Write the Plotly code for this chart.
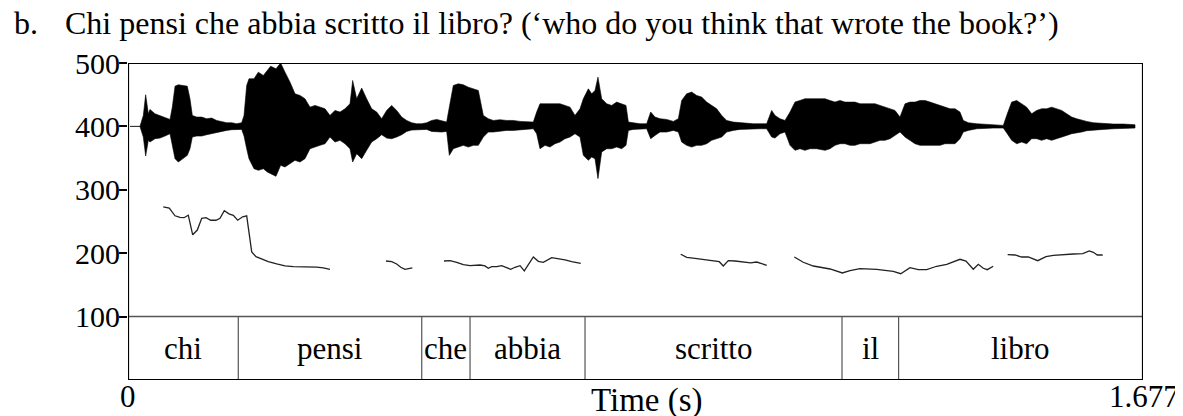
import plotly.graph_objects as go

# ---------------- data ----------------
T_END = 1.677

# waveform envelope (time s, upper / lower excursion on the 100-500 scale, centred at 400)
wave_t = [0.0033, 0.0198, 0.0253, 0.0292, 0.0336, 0.0363, 0.0446, 0.0529, 0.0611, 0.0694,
          0.0732, 0.0777, 0.0832, 0.0914, 0.0980, 0.1024, 0.1063, 0.1135, 0.1217, 0.1300,
          0.1382, 0.1465, 0.1548, 0.1630, 0.1713, 0.1795, 0.1878, 0.1917, 0.1961, 0.1999,
          0.2082, 0.2153, 0.2236, 0.2302, 0.2357, 0.2445, 0.2522, 0.2594, 0.2677, 0.2759,
          0.2842, 0.2924, 0.3007, 0.3090, 0.3172, 0.3255, 0.3337, 0.3420, 0.3503, 0.3585,
          0.3668, 0.3712, 0.3778, 0.3861, 0.3943, 0.4026, 0.4109, 0.4191, 0.4274, 0.4356,
          0.4439, 0.4522, 0.4604, 0.4687, 0.4769, 0.4852, 0.4935, 0.5017, 0.5100, 0.5182,
          0.5265, 0.5309, 0.5375, 0.5458, 0.5540, 0.5623, 0.5706, 0.5788,
          0.5871, 0.5953, 0.6036, 0.6146, 0.6256, 0.6366, 0.6477, 0.6587, 0.6697, 0.6752,
          0.6807, 0.6890, 0.6972, 0.7055, 0.7137, 0.7220, 0.7303, 0.7385, 0.7468, 0.7523,
          0.7606, 0.7661, 0.7716, 0.7765, 0.7826, 0.7909, 0.7991, 0.8074, 0.8156, 0.8228,
          0.8267, 0.8349, 0.8459, 0.8570, 0.8636, 0.8707, 0.8790, 0.8900, 0.9010, 0.9093,
          0.9148, 0.9230, 0.9313, 0.9396, 0.9478, 0.9561, 0.9643, 0.9726, 0.9809, 0.9891,
          1.0001, 1.0111, 1.0222, 1.0332, 1.0442, 1.0552, 1.0635, 1.0690, 1.0772, 1.0855,
          1.0938, 1.1020, 1.1103, 1.1185, 1.1268, 1.1378,
          1.1516, 1.1598, 1.1681, 1.1764, 1.1846, 1.1929, 1.2011, 1.2094, 1.2177, 1.2259,
          1.2342, 1.2425, 1.2507, 1.2590, 1.2672, 1.2755, 1.2838, 1.2920, 1.3003, 1.3085,
          1.3168, 1.3251, 1.3333, 1.3416, 1.3498, 1.3581, 1.3664, 1.3746, 1.3801, 1.3884,
          1.4022, 1.4132, 1.4297, 1.4462, 1.4528, 1.4600, 1.4683, 1.4765, 1.4848, 1.4931,
          1.5013, 1.5096, 1.5178, 1.5261, 1.5344, 1.5426, 1.5509, 1.5592, 1.5674, 1.5757,
          1.5839, 1.5949, 1.6115, 1.6280, 1.6445, 1.6610, 1.6638]
wave_top = [400, 400, 417.3, 449.9, 419.9, 426.8, 419.9, 417.3, 414.7, 411.0,
            430.4, 463.5, 465.6, 464.6, 463.5, 443.6, 417.3, 414.7, 414.7, 412.1,
            413.1, 409.4, 407.9, 405.8, 405.8, 404.2, 405.8, 417.3, 464.6, 475.1,
            475.1, 485.6, 480.3, 488.2, 495.0, 490.8, 500.0, 485.6, 469.8, 451.4,
            448.8, 443.6, 430.4, 433.1, 430.4, 427.8, 417.3, 425.2, 422.6, 427.8,
            435.7, 472.4, 443.6, 460.4, 443.6, 427.8, 422.6, 412.1, 425.2, 433.1,
            425.2, 414.7, 409.4, 405.8, 404.2, 404.2, 405.8, 409.4, 411.0, 409.4,
            406.8, 430.4, 464.6, 467.2, 465.6, 461.9, 459.3, 456.7,
            417.3, 412.1, 409.4, 410.5, 409.4, 409.4, 407.9, 407.9, 406.8, 422.6,
            435.7, 435.7, 435.7, 435.7, 435.7, 433.1, 430.4, 417.3, 427.8, 443.6,
            459.3, 451.4, 456.7, 477.7, 443.6, 435.7, 433.1, 438.3, 435.7, 433.1,
            406.8, 405.8, 404.2, 404.2, 422.6, 414.7, 412.1, 411.0, 407.9, 412.1,
            440.9, 451.4, 454.1, 448.8, 446.2, 438.3, 433.1, 427.8, 417.3, 409.4,
            406.8, 405.8, 405.2, 404.2, 404.2, 404.2, 425.2, 417.3, 412.1, 409.4,
            422.6, 438.3, 440.9, 443.6, 443.6, 443.6,
            443.6, 440.9, 438.3, 440.9, 438.3, 438.3, 438.3, 435.7, 435.7, 435.7,
            435.7, 433.1, 430.4, 427.8, 425.2, 414.7, 435.7, 438.3, 438.3, 440.9,
            440.9, 438.3, 435.7, 433.1, 430.4, 427.8, 427.8, 422.6, 409.4, 405.8,
            404.2, 403.7, 402.6, 401.6, 419.9, 438.3, 440.9, 435.7, 430.4, 419.9,
            425.2, 427.8, 427.8, 430.4, 427.8, 425.2, 419.9, 414.7, 412.1, 409.4,
            407.9, 405.8, 404.2, 403.7, 403.7, 402.6, 402.6]
wave_bot = [400, 400, 383.2, 353.3, 378.0, 375.3, 380.6, 381.6, 384.8, 388.5,
            370.1, 349.1, 343.8, 349.1, 354.3, 364.8, 383.2, 384.8, 384.8, 386.9,
            388.5, 391.1, 392.1, 393.7, 394.8, 395.3, 395.3, 384.8, 364.8, 349.1,
            333.3, 330.7, 333.3, 328.1, 325.5, 321.3, 338.6, 336.0, 341.2, 346.5,
            343.8, 349.1, 364.8, 367.5, 370.1, 372.7, 383.2, 375.3, 378.0, 372.7,
            364.8, 343.8, 357.0, 349.1, 362.2, 375.3, 380.6, 386.9, 381.6, 380.6,
            383.2, 386.9, 392.1, 394.2, 395.3, 395.3, 395.3, 392.1, 391.1, 391.1,
            392.1, 354.3, 364.8, 367.5, 370.1, 367.5, 370.1, 370.1,
            383.2, 391.1, 391.1, 392.1, 393.7, 393.7, 395.3, 395.3, 396.3, 388.5,
            364.8, 370.1, 367.5, 372.7, 375.3, 380.6, 383.2, 388.5, 383.2, 354.3,
            346.5, 351.7, 349.1, 317.6, 359.6, 364.8, 364.8, 367.5, 364.8, 370.1,
            393.7, 395.3, 396.3, 396.3, 380.6, 385.8, 391.1, 391.1, 393.7, 391.1,
            375.3, 370.1, 367.5, 370.1, 370.1, 372.7, 378.0, 380.6, 383.2, 391.1,
            393.7, 395.3, 396.3, 396.3, 396.3, 396.3, 383.2, 381.6, 388.5, 391.1,
            370.1, 362.2, 364.8, 362.2, 364.8, 364.8,
            362.2, 364.8, 370.1, 372.7, 372.7, 370.1, 370.1, 372.7, 372.7, 372.7,
            375.3, 378.0, 378.0, 380.6, 385.8, 391.1, 383.2, 378.0, 372.7, 370.1,
            370.1, 370.1, 370.1, 370.1, 372.7, 372.7, 372.7, 380.6, 391.1, 393.7,
            396.3, 396.3, 397.4, 397.4, 388.5, 378.0, 372.7, 375.3, 372.7, 380.6,
            380.6, 378.0, 380.6, 378.0, 380.6, 383.2, 385.8, 388.5, 390.0, 391.1,
            393.2, 394.2, 395.3, 396.3, 396.3, 397.4, 397.4]

# pitch track segments (time s, F0 Hz)
pitch_t = [
    [0.0583, 0.0682, 0.0777, 0.0859, 0.0925, 0.0996, 0.1069, 0.1145, 0.1218, 0.1289,
     0.1366, 0.1454, 0.1520, 0.1591, 0.1669, 0.1740, 0.1812, 0.1895, 0.1961, 0.2044,
     0.2115, 0.2209, 0.2318, 0.2457, 0.2594, 0.2731, 0.2896, 0.3118, 0.3227, 0.3337],
    [0.4263, 0.4357, 0.4439, 0.4506, 0.4577, 0.4631, 0.4698],
    [0.5221, 0.5320, 0.5431, 0.5540, 0.5651, 0.5816, 0.5898, 0.5953, 0.6009, 0.6092,
     0.6174, 0.6245, 0.6323, 0.6394, 0.6477, 0.6548, 0.6625, 0.6697, 0.6779, 0.6862,
     0.7000, 0.7109, 0.7220, 0.7331, 0.7480],
    [0.9132, 0.9231, 0.9368, 0.9534, 0.9670, 0.9769, 0.9836, 0.9918, 1.0029, 1.0166,
     1.0288, 1.0387, 1.0470, 1.0553],
    [1.1009, 1.1157, 1.1323, 1.1599, 1.1802, 1.1929, 1.2094, 1.2370, 1.2644, 1.2767,
     1.2920, 1.3057, 1.3196, 1.3361, 1.3527, 1.3636, 1.3746, 1.3845, 1.3966, 1.4049,
     1.4131, 1.4197, 1.4296],
    [1.4534, 1.4655, 1.4766, 1.4875, 1.5030, 1.5167, 1.5288, 1.5453, 1.5618, 1.5774,
     1.5883, 1.5949, 1.6015, 1.6104],
]
pitch_f0 = [
    [273, 271, 259, 256.5, 256, 260, 229, 236.5, 255, 256,
     252, 252, 255, 267, 262, 259.7, 252, 257.5, 259, 202,
     194.5, 191, 186.6, 183, 180, 178.7, 178.7, 178, 176.7, 174.6],
    [187.7, 186.6, 183, 177.8, 174.6, 175.6, 177],
    [187.7, 188.2, 185.7, 182, 180.3, 181.4, 180, 176.2, 178.7, 178.7,
     180.3, 177.8, 174.6, 177.8, 180.3, 172, 184, 194, 187.2, 185.7,
     193, 191.3, 189.3, 186.6, 184],
    [198.3, 193.5, 192, 189.3, 187.7, 186.6, 179.8, 188.2, 187.7, 186.6,
     184.6, 186.1, 184, 180.9],
    [194, 185.7, 179.8, 175.1, 168.8, 172.4, 175.6, 174.6, 171.5, 167.7,
     177.2, 174, 174, 179.4, 182.5, 186.6, 190.4, 187.7, 174.6, 182.5,
     176.2, 174, 179.4],
    [197.6, 197.2, 194, 194, 188.2, 194.5, 196.7, 198.3, 198.7, 199.2,
     203.5, 201.4, 197.2, 197.2],
]

# word tier
word_bounds = [0.0, 0.1822, 0.4853, 0.5651, 0.7551, 1.1797, 1.2732, 1.677]
words = ["chi", "pensi", "che", "abbia", "scritto", "il", "libro"]

y_ticks = [100, 200, 300, 400, 500]
title_label = "b."
title_text = "Chi pensi che abbia scritto il libro? (\u2018who do you think that wrote the book?\u2019)"
x_label = "Time (s)"

# ---------------- figure ----------------
FONT = "Liberation Serif, Times New Roman, serif"
fig = go.Figure()

# waveform as filled envelope
fig.add_trace(go.Scatter(
    x=wave_t + wave_t[::-1],
    y=wave_top + wave_bot[::-1],
    mode="lines", fill="toself", fillcolor="black",
    line=dict(color="black", width=0.6),
    hoverinfo="skip", showlegend=False))

# pitch
px, py = [], []
for ts, fs in zip(pitch_t, pitch_f0):
    px += ts + [None]
    py += fs + [None]
fig.add_trace(go.Scatter(x=px, y=py, mode="lines",
                         line=dict(color="#222222", width=1.3),
                         hoverinfo="skip", showlegend=False))

shapes = []
shapes.append(dict(type="line", xref="x", yref="y", x0=0, x1=T_END, y0=100, y1=100,
                   line=dict(color="#555555", width=1.5)))
for b in word_bounds[1:-1]:
    shapes.append(dict(type="line", xref="x", yref="y", x0=b, x1=b, y0=0, y1=100,
                       line=dict(color="#555555", width=1.2)))
shapes.append(dict(type="rect", xref="x", yref="y", x0=0, x1=T_END, y0=0, y1=500,
                   line=dict(color="black", width=2.2)))

annotations = []
for w, a, b in zip(words, word_bounds[:-1], word_bounds[1:]):
    annotations.append(dict(x=(a + b) / 2, y=50, xref="x", yref="y", text=w,
                            showarrow=False, font=dict(family=FONT, size=31, color="black"),
                            xanchor="center", yanchor="middle"))
annotations += [
    dict(x=0, y=-0.053, xref="paper", yref="paper", text="0", showarrow=False,
         font=dict(family=FONT, size=31, color="black"), xanchor="center", yanchor="middle"),
    dict(x=1.0374, y=-0.053, xref="paper", yref="paper", text=f"{T_END:.3f}", showarrow=False,
         font=dict(family=FONT, size=31, color="black"), xanchor="right", yanchor="middle"),
    dict(x=0.511, y=-0.066, xref="paper", yref="paper", text=x_label, showarrow=False,
         font=dict(family=FONT, size=33, color="black"), xanchor="center", yanchor="middle"),
    dict(x=-0.1143, y=1.127, xref="paper", yref="paper", text=title_label, showarrow=False,
         font=dict(family=FONT, size=32, color="black"), xanchor="left", yanchor="middle"),
    dict(x=-0.0645, y=1.127, xref="paper", yref="paper", text=title_text, showarrow=False,
         font=dict(family=FONT, size=32, color="black"), xanchor="left", yanchor="middle"),
]

# the page body adds an 8 px margin, so the figure is 8 px smaller than the window
fig.update_layout(
    width=1175, height=408,
    margin=dict(l=120, r=40, t=55, b=36),
    paper_bgcolor="white", plot_bgcolor="white",
    shapes=shapes, annotations=annotations,
    xaxis=dict(range=[0, T_END], visible=False, showgrid=False, zeroline=False),
    yaxis=dict(range=[0, 500], tickvals=y_ticks, ticks="outside", ticklen=8, tickwidth=1.5,
               tickcolor="black", showgrid=False, zeroline=False, showline=False,
               ticklabelstandoff=-7,
               tickfont=dict(family=FONT, size=30, color="black")),
)

fig.write_html("out.html")
